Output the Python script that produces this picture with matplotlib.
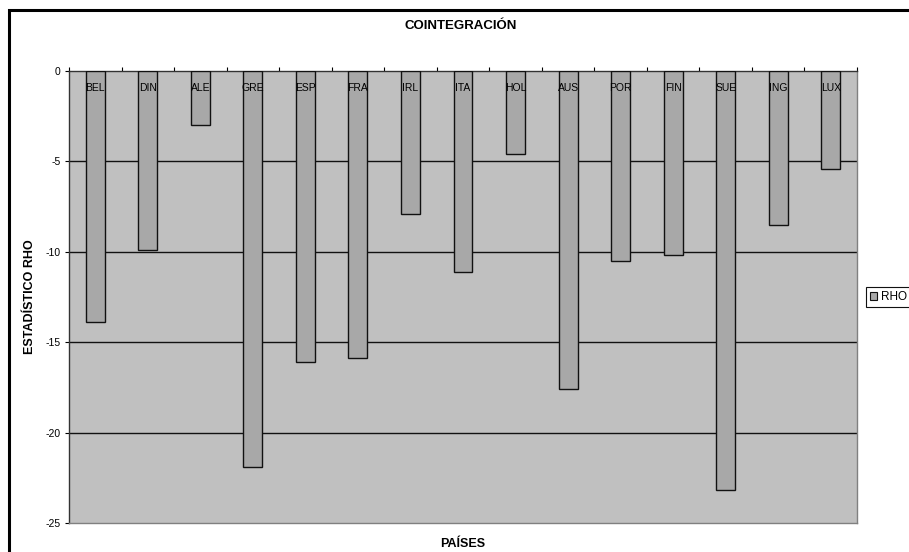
import matplotlib
matplotlib.use('Agg')
import matplotlib.pyplot as plt
from matplotlib.patches import Rectangle, Patch
import numpy as np

paises = ['BEL', 'DIN', 'ALE', 'GRE', 'ESP', 'FRA', 'IRL', 'ITA',
          'HOL', 'AUS', 'POR', 'FIN', 'SUE', 'ING', 'LUX']
rho = [-13.9, -9.9, -3.0, -21.9, -16.1, -15.9, -7.9, -11.1,
       -4.6, -17.6, -10.5, -10.2, -23.2, -8.5, -5.4]
yticks = [0, -5, -10, -15, -20, -25]

plt.rcParams['font.family'] = ['Liberation Sans', 'DejaVu Sans']

fig = plt.figure(figsize=(9.09, 5.52), dpi=100)
ax = fig.add_axes([0.0759, 0.0525, 0.8669, 0.8189])
ax.set_facecolor('#c0c0c0')

x = np.arange(len(paises))
ax.bar(x, rho, width=0.36, color='#a8a8a8', edgecolor='#111111',
       linewidth=1.0, zorder=3)

# horizontal gridlines behind the bars
for v in yticks[1:-1]:
	ax.axhline(v, color='#111111', linewidth=1.0, zorder=1)

ax.set_xlim(-0.5, len(paises) - 0.5)
ax.set_ylim(-25, 0)
ax.set_yticks(yticks)
ax.set_yticklabels([str(v) for v in yticks], fontsize=7.5)
ax.tick_params(axis='y', direction='out', length=3, width=0.8, pad=3)

# category axis sits at zero, on top of the plot
ax.xaxis.set_ticks_position('top')
ax.set_xticks(np.arange(len(paises) + 1) - 0.5)
ax.set_xticklabels([])
ax.tick_params(axis='x', direction='out', length=3, width=0.8)

for i, p in enumerate(paises):
	ax.text(i, -0.95, p, ha='center', va='center', fontsize=7.5, zorder=4)

for side in ['left', 'top']:
	ax.spines[side].set_color('#333333')
	ax.spines[side].set_linewidth(1.0)
for side in ['right', 'bottom']:
	ax.spines[side].set_color('#808080')
	ax.spines[side].set_linewidth(1.0)

fig.text(0.507, 0.953, 'COINTEGRACIÓN', ha='center', va='center',
         fontsize=9.5, fontweight='bold')
fig.text(0.509, 0.014, 'PAÍSES', ha='center', va='center',
         fontsize=9, fontweight='bold')
fig.text(0.033, 0.462, 'ESTADÍSTICO RHO', ha='center', va='center',
         rotation=90, fontsize=9, fontweight='bold')

handle = Patch(facecolor='#a8a8a8', edgecolor='#111111', linewidth=0.8)
leg = fig.legend([handle], ['RHO'], loc='center left',
                 bbox_to_anchor=(0.953, 0.462), fontsize=8.5,
                 fancybox=False, framealpha=1, edgecolor='#111111',
                 handlelength=0.6, handleheight=0.6, handletextpad=0.3,
                 borderpad=0.35, borderaxespad=0)
leg.get_frame().set_linewidth(0.8)

# outer chart border running off the right and bottom edges
border = Rectangle((9 / 909, -0.1), 1.2, 1.1 - 10 / 552,
                   transform=fig.transFigure, fill=False,
                   edgecolor='black', linewidth=2.2)
fig.add_artist(border)

fig.savefig('out.png', dpi=100)
